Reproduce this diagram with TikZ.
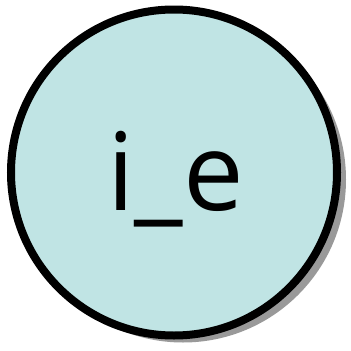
\documentclass[tikz,border=0pt]{standalone}
\usepackage{fontspec}
\setmainfont{Open Sans}
\usetikzlibrary{shadows}
\definecolor{statefill}{HTML}{C0E4E4}
\definecolor{shadowgray}{HTML}{999999}

\begin{document}
\begin{tikzpicture}[x=1pt, y=-1pt]
    % Canvas
    \useasboundingbox (0,0) rectangle (351,351);
    % State node with drop shadow
    \node[circle, draw=black, line width=8pt, fill=statefill,
          minimum size=326pt, inner sep=0pt,
          drop shadow={shadow xshift=9pt, shadow yshift=-7pt, fill=shadowgray, opacity=1}] (ie) at (174,172.5) {};
    \node[anchor=base, inner sep=0pt, font=\fontsize{108}{108}\selectfont] (ielabel) at (175.5,210) {i\_e};
\end{tikzpicture}
\end{document}
